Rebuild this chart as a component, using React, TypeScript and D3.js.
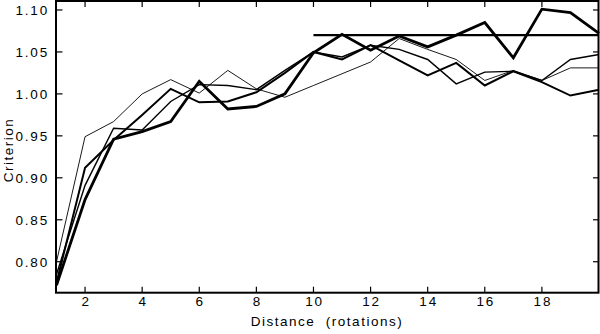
import React from 'react';
import * as d3 from 'd3';

// distance in rotations
const distance = [1, 2, 3, 4, 5, 6, 7, 8, 9, 10, 11, 12, 13, 14, 15, 16, 17, 18, 19, 20];

// criterion per run (thickest first)
const runA = [0.772, 0.874, 0.946, 0.955, 0.967, 1.015, 0.982, 0.985, 1.0, 1.049, 1.071, 1.052, 1.069, 1.056, 1.07, 1.085, 1.043, 1.101, 1.097, 1.072];
const runB = [0.775, 0.912, 0.945, 0.975, 1.006, 0.99, 0.991, 1.002, 1.025, 1.05, 1.041, 1.058, 1.04, 1.022, 1.037, 1.01, 1.027, 1.014, 0.998, 1.005];
const runC = [0.785, 0.891, 0.959, 0.957, 0.991, 1.011, 1.01, 1.005, 1.028, 1.05, 1.044, 1.058, 1.053, 1.041, 1.012, 1.026, 1.027, 1.016, 1.041, 1.047];
const runD = [0.8, 0.949, 0.967, 1.0, 1.017, 1.001, 1.028, 1.006, 0.996, 1.01, 1.024, 1.038, 1.066, 1.053, 1.041, 1.016, 1.028, 1.016, 1.031, 1.031];

const refLevel = 1.07;
const refFrom = 10;
const refTo = 20;

const xTicks = [2, 4, 6, 8, 10, 12, 14, 16, 18];
const yTicks = [0.8, 0.85, 0.9, 0.95, 1.0, 1.05, 1.1];

const W = 600;
const H = 334;
const left = 56.5;
const right = 599;
const top = 1;
const bottom = 292.7;

const font = '"Liberation Sans", Arial, sans-serif';

export default function App() {
  const x = d3.scaleLinear().domain([1, 20]).range([left, right]);
  const y = d3.scaleLinear().domain([0.7631, 1.1107]).range([bottom, top]);

  const line = d3.line<number>()
    .x((d, i) => x(distance[i]))
    .y(d => y(d));

  const runs = [
    { vals: runD, w: 0.9 },
    { vals: runC, w: 1.4 },
    { vals: runB, w: 2.0 },
    { vals: runA, w: 2.8 },
  ];

  const tick = 6;

  return (
    <svg width={W} height={H} style={{ position: 'absolute', left: 0, top: 0, background: '#fff' }}>
      {runs.map((r, i) => (
        <path key={i} d={line(r.vals) || ''} fill="none" stroke="#000" strokeWidth={r.w} strokeLinejoin="miter" />
      ))}
      <line x1={x(refFrom)} x2={x(refTo)} y1={y(refLevel)} y2={y(refLevel)} stroke="#000" strokeWidth={2.2} />

      {/* frame */}
      <rect x={left - 0.5} y={top} width={right - left} height={bottom - top} fill="none" stroke="#000" strokeWidth={2} />

      {xTicks.map(t => (
        <g key={'x' + t}>
          <line x1={x(t)} x2={x(t)} y1={bottom} y2={bottom - tick} stroke="#000" strokeWidth={1.2} />
          <line x1={x(t)} x2={x(t)} y1={top} y2={top + tick} stroke="#000" strokeWidth={1.2} />
          <text x={x(t) + 1} y={306} textAnchor="middle" fontFamily={font} fontSize={13.5} letterSpacing={1.8}>{t}</text>
        </g>
      ))}
      {yTicks.map(t => (
        <g key={'y' + t}>
          <line x1={left} x2={left + tick} y1={y(t)} y2={y(t)} stroke="#000" strokeWidth={1.2} />
          <line x1={right} x2={right - tick} y1={y(t)} y2={y(t)} stroke="#000" strokeWidth={1.2} />
          <text x={49} y={y(t) + 4.8} textAnchor="end" fontFamily={font} fontSize={13.5} letterSpacing={1.8}>{t.toFixed(2)}</text>
        </g>
      ))}

      <text x={327} y={326} textAnchor="middle" fontFamily={font} fontSize={13.5} letterSpacing={1.5} style={{ whiteSpace: 'pre' }}>
        {'Distance  (rotations)'}
      </text>
      <text transform={`translate(12.5,150) rotate(-90)`} textAnchor="middle" fontFamily={font} fontSize={13.5} letterSpacing={1.5}>
        Criterion
      </text>
    </svg>
  );
}
